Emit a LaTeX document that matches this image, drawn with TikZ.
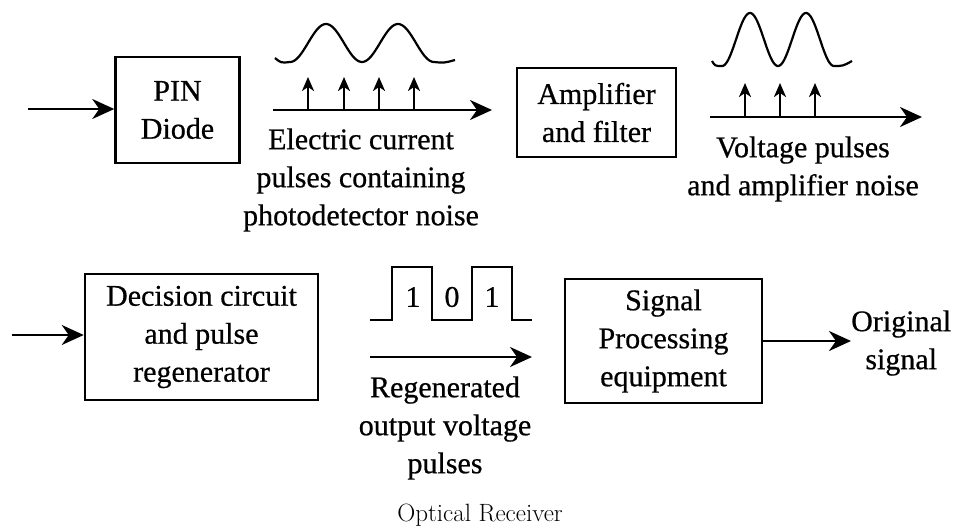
\documentclass[tikz,border=0pt]{standalone}
\usepackage{fontspec}
\setmainfont[FakeBold=0.6]{Liberation Serif}
\newfontfamily\capfont{Latin Modern Roman}
\usetikzlibrary{arrows.meta}

\begin{document}
\begin{tikzpicture}[
        x=1pt, y=-1pt,
        font=\fontsize{30}{38}\selectfont,
        >={Stealth[length=22pt,width=20pt,inset=7pt]},
        blk/.style={draw=black, line width=2.5pt, align=center, inner sep=0pt},
        lbl/.style={align=center, inner sep=0pt},
        link/.style={draw=black, line width=2.6pt, ->},
        tick/.style={draw=black, line width=2.3pt, -{Stealth[length=14pt,width=12pt,inset=4pt]}},
        wave/.style={draw=black, line width=2.2pt}
    ]
        \useasboundingbox[fill=white] (0,0) rectangle (958,532);

        \node[blk, minimum width=124pt, minimum height=106pt] (pin) at (177.5,110) {PIN\\Diode};
        \node[blk, minimum width=159pt, minimum height=89pt] (amp) at (596.5,112.5) {Amplifier\\and filter};
        \node[blk, minimum width=233pt, minimum height=126pt] (dec) at (201.5,337) {Decision circuit\\and pulse\\regenerator};
        \node[blk, minimum width=197pt, minimum height=124pt] (sig) at (663.5,341) {Signal\\Processing\\equipment};

        \node[lbl] (cur) at (361,180) {Electric current\\pulses containing\\photodetector noise};
        \node[lbl] (volt) at (803,169) {Voltage pulses\\and amplifier noise};
        \node[lbl] (regen) at (445,428) {Regenerated\\output voltage\\pulses};
        \node[lbl, anchor=west] (orig) at (851,343) {Original\\signal};
        \node[lbl, font=\capfont\fontsize{25}{30}\selectfont] (cap) at (480,515) {Optical Receiver};

        % bits of the regenerated pulse train
        \node[lbl] (bitA) at (413,297) {1};
        \node[lbl] (bitB) at (452,297) {0};
        \node[lbl] (bitC) at (492,297) {1};

        \coordinate (in1) at (28,109);
        \coordinate (in2) at (12,335);
        \coordinate (ax1s) at (273,110);
        \coordinate (ax1e) at (492,110);
        \coordinate (ax2s) at (710,117);
        \coordinate (ax2e) at (922,117);
        \coordinate (ax3s) at (370,357);
        \coordinate (ax3e) at (532,357);

        \draw[link] (in1) -- (in1 -| pin.west);
        \draw[link] (in2) -- (in2 -| dec.west);
        \draw[link] (sig.east) -- (sig.east -| orig.west);
        \draw[link] (ax1s) -- (ax1e);
        \draw[link] (ax2s) -- (ax2e);
        \draw[link] (ax3s) -- (ax3e);

        % noise spikes
        \foreach \t in {308,344,379,414}
            \draw[tick] (\t,110) -- (\t,77);
        \foreach \t in {745,780,815}
            \draw[tick] (\t,117) -- (\t,83);

        % pulse envelopes
        \draw[wave] (275,58) .. controls (281,63) .. (290,62)
            -- plot[domain=290:434, samples=90, smooth] (\x, {43-19*cos(5*(\x-326))})
            .. controls (444,63) .. (455,60);
        \draw[wave] (712,61) .. controls (715,66) .. (722,66)
            -- plot[domain=722:834, samples=90, smooth] (\x, {39.5-26.5*cos(6.4286*(\x-750))})
            .. controls (843,66) .. (852,61);

        % regenerated pulses
        \draw[wave] (370,320) -- (392,320) -- (392,267) -- (432,267) -- (432,320)
            -- (472,320) -- (472,267) -- (512,267) -- (512,320) -- (532,320);
    \end{tikzpicture}
\end{document}
